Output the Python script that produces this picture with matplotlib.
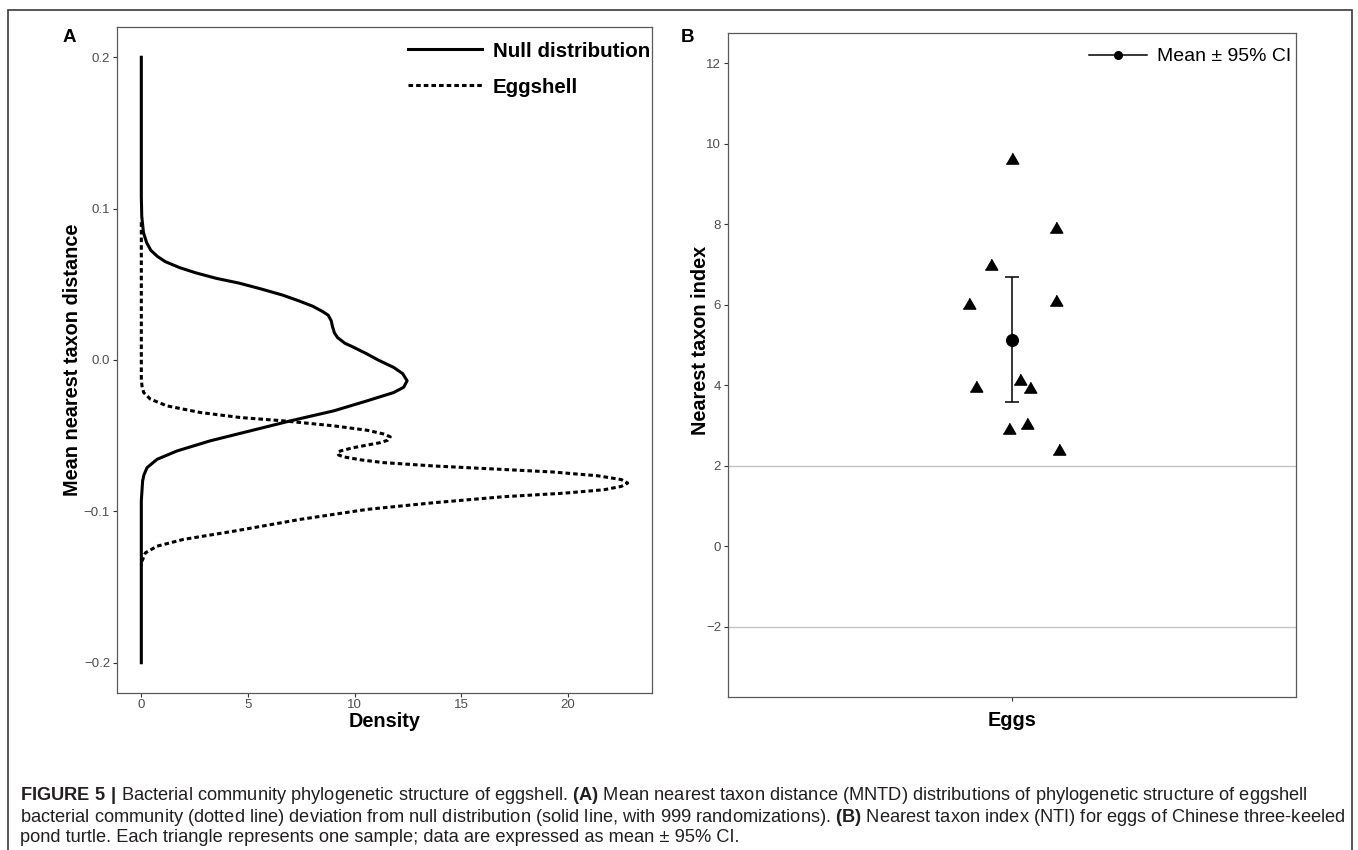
import matplotlib
matplotlib.use('Agg')
import matplotlib.pyplot as plt
from matplotlib.lines import Line2D
from matplotlib.patches import Rectangle

plt.rcParams['font.family'] = ['Liberation Sans', 'DejaVu Sans']
plt.rcParams['mathtext.fontset'] = 'custom'
plt.rcParams['mathtext.rm'] = 'Liberation Sans'
plt.rcParams['mathtext.bf'] = 'Liberation Sans:bold'

# panel A: density curves (MNTD value, density)
null_mntd = [0.200, 0.108, 0.095, 0.0842, 0.0775, 0.0724, 0.0685, 0.065, 0.061,
             0.0576, 0.054, 0.0508, 0.047, 0.0429, 0.039, 0.0355, 0.032, 0.0296,
             0.026, 0.0222, 0.018, 0.0148, 0.011, 0.0089, 0.004, 0.0, -0.0049,
             -0.009, -0.0137, -0.018, -0.0215, -0.027, -0.0336, -0.0402, -0.0468,
             -0.0534, -0.0601, -0.0656, -0.0711, -0.076, -0.080, -0.093, -0.200]
null_density = [0.0, 0.0, 0.02, 0.1, 0.25, 0.45, 0.75, 1.12, 1.8,
                2.55, 3.5, 4.58, 5.6, 6.62, 7.4, 8.04, 8.5, 8.76,
                8.9, 8.96, 9.05, 9.2, 9.55, 9.88, 10.58, 11.1, 11.83,
                12.25, 12.46, 12.3, 11.83, 10.58, 9.02, 6.99, 5.11,
                3.23, 1.67, 0.74, 0.27, 0.12, 0.06, 0.0, 0.0]

egg_mntd = [0.091, -0.012, -0.017, -0.0215, -0.0258, -0.0303, -0.0347, -0.038,
            -0.0402, -0.0435, -0.0464, -0.049, -0.0508, -0.053, -0.0546, -0.0579,
            -0.060, -0.0612, -0.0628, -0.064, -0.066, -0.0678, -0.070, -0.0722,
            -0.074, -0.0765, -0.079, -0.0813, -0.0835, -0.0857, -0.088, -0.0903,
            -0.0943, -0.0987, -0.1053, -0.1131, -0.1185, -0.123, -0.1274, -0.133,
            -0.136]
egg_density = [0.0, 0.0, 0.03, 0.11, 0.42, 1.2, 2.77, 4.64,
               6.67, 9.02, 10.58, 11.4, 11.67, 11.55, 11.2, 9.95,
               9.35, 9.2, 9.25, 9.49, 10.3, 11.36, 13.7, 16.8,
               19.3, 21.4, 22.5, 22.8, 22.5, 21.7, 19.8, 17.0,
               13.7, 10.58, 7.45, 4.33, 1.98, 0.74, 0.19, 0.03,
               0.0]

a_xticks = [0, 5, 10, 15, 20]
a_yticks = [-0.2, -0.1, 0.0, 0.1, 0.2]
a_yticklabels = ['\u22120.2', '\u22120.1', '0.0', '0.1', '0.2']

# panel B: NTI per egg sample, with the horizontal jitter seen in the figure
nti_values = [9.59, 7.88, 6.95, 6.0, 6.06, 3.93, 4.1, 3.91, 2.88, 3.01, 2.37]
nti_jitter = [0.0, 0.093, -0.044, -0.090, 0.093, -0.077, 0.017, 0.039, -0.007, 0.032, 0.099]
nti_mean = 5.13
nti_ci_low = 3.57
nti_ci_high = 6.68
nti_ref_lines = [2, -2]
b_yticks = [-2, 0, 2, 4, 6, 8, 10, 12]
b_yticklabels = ['\u22122', '0', '2', '4', '6', '8', '10', '12']

W, H = 1358, 850
fig = plt.figure(figsize=(W / 100, H / 100), dpi=100)


def px_axes(l, t, r, b):
    return fig.add_axes([l / W, 1 - b / H, (r - l) / W, (b - t) / H])


def style_axes(ax):
    for s in ax.spines.values():
        s.set_color('#595959')
        s.set_linewidth(0.9)
    ax.tick_params(length=3, width=0.8, color='#333333', labelcolor='#4d4d4d',
                   labelsize=9.5, pad=2)


# ---- panel A ----
axA = px_axes(117, 27, 652, 693)
style_axes(axA)
axA.plot(null_density, null_mntd, color='black', lw=2.2, solid_joinstyle='round')
axA.plot(egg_density, egg_mntd, color='black', lw=2.2, linestyle=(0, (1.5, 1.0)))
rmax = max(egg_density)
axA.set_xlim(-0.05 * rmax, 1.05 * rmax)
axA.set_ylim(-0.22, 0.22)
axA.set_xticks(a_xticks)
axA.tick_params(axis='x', pad=1.5)
axA.set_yticks(a_yticks, labels=a_yticklabels)
axA.set_xlabel('Density', fontsize=14.3, fontweight='bold')
axA.xaxis.set_label_coords(0.5, -0.029)
axA.set_ylabel('Mean nearest taxon distance', fontsize=14.3, fontweight='bold')
axA.yaxis.set_label_coords(-0.0654, 0.5)
hA = [Line2D([], [], color='black', lw=2.2),
      Line2D([], [], color='black', lw=2.2, linestyle=(0, (1.5, 1.0)))]
axA.legend(hA, ['Null distribution', 'Eggshell'], loc='upper right',
           bbox_to_anchor=(0.9963, 0.978), frameon=False, borderpad=0,
           borderaxespad=0, handlelength=3.6, handletextpad=0.5,
           labelspacing=0.82, prop={'size': 14.8, 'weight': 'bold'})

# ---- panel B ----
axB = px_axes(728, 33, 1296, 697)
style_axes(axB)
for v in nti_ref_lines:
    axB.axhline(v, color='#c4c4c4', lw=1.0, zorder=1)
xs = [1 + j for j in nti_jitter]
tri = [(-1, -0.577), (1, -0.577), (0, 1.155)]
axB.plot(xs, nti_values, linestyle='none', marker=tri, markersize=10.4,
         color='black', zorder=3)
axB.errorbar([1], [nti_mean], yerr=[[nti_mean - nti_ci_low], [nti_ci_high - nti_mean]],
             fmt='o', color='black', markersize=8.4, elinewidth=1.1, capsize=5,
             capthick=1.1, zorder=4)
axB.set_xlim(0.4, 1.6)
axB.set_ylim(-3.75, 12.75)
axB.set_xticks([1], labels=['Eggs'])
axB.tick_params(axis='x', labelsize=14.3, labelcolor='black', pad=6.8)
for t in axB.get_xticklabels():
    t.set_fontweight('bold')
axB.set_yticks(b_yticks, labels=b_yticklabels)
axB.set_ylabel('Nearest taxon index', fontsize=14.3, fontweight='bold')
axB.yaxis.set_label_coords(-0.0317, 0.5377)
hB = [Line2D([], [], color='black', lw=1.1, marker='o', markersize=5.5)]
axB.legend(hB, ['Mean \u00b1 95% CI'], loc='upper right',
           bbox_to_anchor=(0.9912, 0.9777), frameon=False, borderpad=0,
           borderaxespad=0, handlelength=2.94, handletextpad=0.52,
           prop={'size': 14})

# panel letters
fig.text(69 / W, 1 - 37 / H, 'A', fontsize=13.5, fontweight='bold', ha='center', va='center')
fig.text(688 / W, 1 - 37 / H, 'B', fontsize=13.5, fontweight='bold', ha='center', va='center')

# outer frame
fig.add_artist(Rectangle((8 / W, -0.05), (1352 - 8) / W, 1 - 10 / H + 0.05,
                         transform=fig.transFigure, fill=False,
                         edgecolor='#3a3a3a', lw=1.2, clip_on=False))

# caption
cap = [r'$\mathbf{FIGURE\ 5\ |}$ Bacterial community phylogenetic structure of eggshell. '
       r'$\mathbf{(A)}$ Mean nearest taxon distance (MNTD) distributions of phylogenetic structure of eggshell',
       r'bacterial community (dotted line) deviation from null distribution (solid line, with 999 randomizations). '
       r'$\mathbf{(B)}$ Nearest taxon index (NTI) for eggs of Chinese three-keeled',
       'pond turtle. Each triangle represents one sample; data are expressed as mean \u00b1 95% CI.']
for txt, yc in zip(cap, [792, 814, 835]):
    fig.text(20 / W, 1 - yc / H, txt, fontsize=13.15, color='#231f20',
             ha='left', va='center_baseline')

fig.savefig('out.png', dpi=100)
